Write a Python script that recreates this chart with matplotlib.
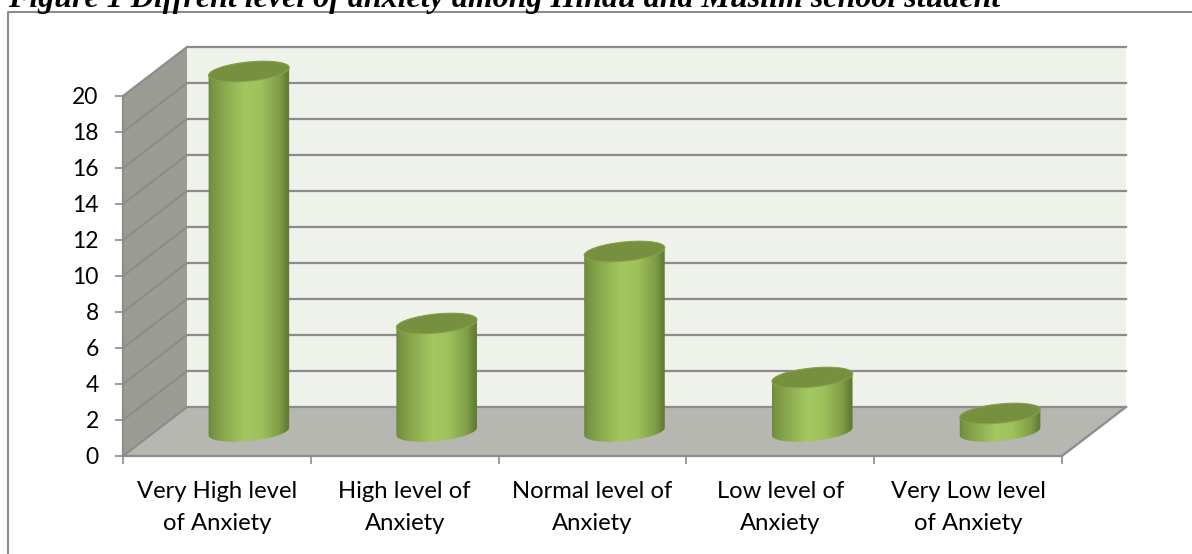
import matplotlib
matplotlib.use("Agg")
import matplotlib.pyplot as plt
from matplotlib.colors import LinearSegmentedColormap
from matplotlib.lines import Line2D
from matplotlib.patches import PathPatch, Polygon
from matplotlib.path import Path
import numpy as np

categories = ["Very High level\nof Anxiety", "High level of\nAnxiety", "Normal level of\nAnxiety",
              "Low level of\nAnxiety", "Very Low level\nof Anxiety"]
values = [20, 6, 10, 3, 1]
y_ticks = list(range(0, 21, 2))

title = "Figure 1 Diffrent level of anxiety among Hindu and Muslim school student"

W, H = 1192, 554
LINE = "#8c8c8c"
DEPTH_X = 64 / 187.8   # 3d offset of the back wall, x units
DEPTH_Y = 49 / 18.0    # same in y units
PX_X = 187.8           # pixels per category
PX_Y = 18.0            # pixels per y unit

body_cmap = LinearSegmentedColormap.from_list("body", [
    (0.0, "#6a863c"), (0.05, "#769442"), (0.2, "#8aaa4e"), (0.45, "#a3c860"),
    (0.65, "#9fc15b"), (0.87, "#7f9e47"), (0.97, "#617d34"), (1.0, "#617d34")])

fig = plt.figure(figsize=(W / 100, H / 100), dpi=100, facecolor="white")
ax = fig.add_axes([123 / W, (H - 456) / H, 939 / W, 360 / H])
ax.set_xlim(0, 5)
ax.set_ylim(0, 20)
ax.patch.set_visible(False)


def ellipse(cx, cy, a=40.5, b=9.5, tilt=0.1, n=80, t0=0, t1=2 * np.pi):
    # tilted disc outline, sized in pixels and returned in data units
    t = np.linspace(t0, t1, n)
    px = a * np.cos(t) * np.cos(tilt) - b * np.sin(t) * np.sin(tilt)
    py = a * np.cos(t) * np.sin(tilt) + b * np.sin(t) * np.cos(tilt)
    return np.column_stack([cx + px / PX_X, cy + py / PX_Y])


# walls and floor
ax.add_patch(Polygon([(0, 0), (DEPTH_X, DEPTH_Y), (DEPTH_X, 20 + DEPTH_Y), (0, 20)],
                     fc="#9b9d95", ec="none", clip_on=False, zorder=1))
ax.add_patch(Polygon([(0, 0), (DEPTH_X, DEPTH_Y), (5 + DEPTH_X, DEPTH_Y), (5, 0)],
                     fc="#b5b7b0", ec="none", clip_on=False, zorder=1))
ax.add_patch(Polygon([(DEPTH_X, DEPTH_Y), (5 + DEPTH_X, DEPTH_Y), (5 + DEPTH_X, 20 + DEPTH_Y), (DEPTH_X, 20 + DEPTH_Y)],
                     fc="#eff1eb", ec="none", clip_on=False, zorder=1))

# gridlines run across the side wall and along the back wall
for v in y_ticks:
    ax.plot([0, DEPTH_X, 5 + DEPTH_X], [v, v + DEPTH_Y, v + DEPTH_Y], color=LINE, lw=1.6,
            clip_on=False, zorder=2, solid_joinstyle="miter")
ax.plot([5, 5 + DEPTH_X], [0, DEPTH_Y], color=LINE, lw=1.6, clip_on=False, zorder=2)

# cylinders
for i, v in enumerate(values):
    cx = i + 0.5 + DEPTH_X / 2
    cy = DEPTH_Y / 2
    bottom = ellipse(cx, cy, t0=np.pi, t1=2 * np.pi)
    top = ellipse(cx, cy + v, t0=0, t1=np.pi)
    outline = np.vstack([bottom, top, bottom[:1]])
    patch = PathPatch(Path(outline), fc="none", ec="none", clip_on=False, zorder=3)
    ax.add_patch(patch)
    half = 41 / PX_X
    im = ax.imshow(np.linspace(0, 1, 256).reshape(1, -1), cmap=body_cmap, aspect="auto", zorder=3,
                   extent=[cx - half, cx + half, cy - 1.2, cy + v + 1.2], interpolation="bilinear")
    im.set_clip_box(fig.bbox)
    im.set_clip_path(patch)
    ax.add_patch(Polygon(ellipse(cx, cy + v), fc="#76903f", ec="#86a04c", lw=0.8, clip_on=False, zorder=4))

ax.set_xlim(0, 5)
ax.set_ylim(0, 20)

# axes
for side in ["top", "right"]:
    ax.spines[side].set_visible(False)
for side in ["left", "bottom"]:
    ax.spines[side].set_color(LINE)
    ax.spines[side].set_linewidth(1.6)
    ax.spines[side].set_zorder(2.5)

ax.set_yticks(y_ticks)
ax.set_xticks(range(6))
ax.set_xticklabels([])
ax.set_xticks(np.arange(len(categories)) + 0.5, minor=True)
ax.set_xticklabels(categories, minor=True, fontfamily="Lato", fontsize=17.2, linespacing=1.66)
ax.tick_params(axis="x", which="minor", length=0, pad=18, colors="black")
ax.tick_params(axis="both", which="major", length=5.5, width=1.2, color=LINE)
ax.tick_params(axis="y", labelsize=16.5, pad=12, labelcolor="black")
for lab in ax.get_yticklabels():
    lab.set_fontfamily("Lato")

# chart frame, cut off on the right and at the bottom
fig.add_artist(Line2D([8 / W, 8 / W, 1], [0, 1 - 11.5 / H, 1 - 11.5 / H], color=LINE, lw=1.5))

fig.text(8 / W, 1 - 7 / H, title, family="Liberation Serif", style="italic", weight="bold",
         fontsize=23, color="black", ha="left", va="baseline")

fig.savefig("out.png", dpi=100)
